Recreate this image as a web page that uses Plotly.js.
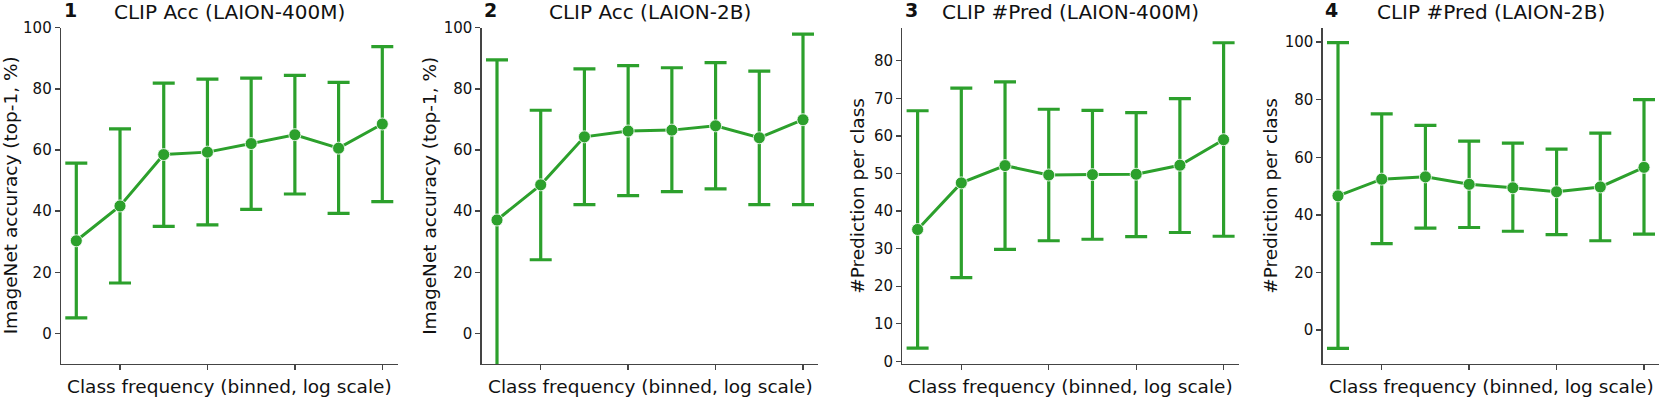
<!DOCTYPE html>
<html>
<head>
<meta charset="utf-8">
<script src="https://cdn.plot.ly/plotly-3.0.1.min.js"></script>
<style>html,body{margin:0;padding:0;background:#fff;}#chart{width:1661px;height:398px;}</style>
</head>
<body>
<div id="chart"></div>
<script>
// Bins (class frequency, binned, log scale)
const bins = [0, 1, 2, 3, 4, 5, 6, 7];
const binTicks = [1, 3, 5, 7];

// Panel 1: CLIP Acc (LAION-400M)
const acc400mMean  = [30.3, 41.7, 58.5, 59.3, 62.1, 65.0, 60.6, 68.5];
const acc400mUpper = [55.7, 66.9, 81.9, 83.2, 83.5, 84.4, 82.1, 93.8];
const acc400mLower = [5.1, 16.5, 35.0, 35.5, 40.6, 45.6, 39.3, 43.1];

// Panel 2: CLIP Acc (LAION-2B)
const acc2bMean  = [37.1, 48.6, 64.3, 66.2, 66.5, 67.9, 64.0, 69.9];
const acc2bUpper = [89.5, 73.0, 86.5, 87.6, 86.9, 88.6, 85.8, 97.9];
const acc2bLower = [-15.3, 24.1, 42.1, 45.1, 46.4, 47.3, 42.1, 42.1];

// Panel 3: CLIP #Pred (LAION-400M)
const pred400mMean  = [35.1, 47.5, 52.1, 49.6, 49.7, 49.8, 52.2, 59.0];
const pred400mUpper = [66.7, 72.7, 74.4, 67.1, 66.8, 66.2, 69.9, 84.8];
const pred400mLower = [3.5, 22.3, 29.8, 32.1, 32.5, 33.2, 34.3, 33.3];

// Panel 4: CLIP #Pred (LAION-2B)
const pred2bMean  = [46.6, 52.4, 53.2, 50.6, 49.4, 48.0, 49.7, 56.5];
const pred2bUpper = [99.8, 75.1, 71.1, 65.6, 64.9, 62.8, 68.4, 80.0];
const pred2bLower = [-6.4, 30.0, 35.4, 35.6, 34.3, 33.1, 31.0, 33.3];

const panelNumbers = ['1', '2', '3', '4'];
const panelTitles = ['CLIP Acc (LAION-400M)', 'CLIP Acc (LAION-2B)', 'CLIP #Pred (LAION-400M)', 'CLIP #Pred (LAION-2B)'];
const yLabels = ['ImageNet accuracy (top-1, %)', 'ImageNet accuracy (top-1, %)', '#Prediction per class', '#Prediction per class'];
const xLabel = 'Class frequency (binned, log scale)';
const yTicks = [[0,20,40,60,80,100],[0,20,40,60,80,100],[0,10,20,30,40,50,60,70,80],[0,20,40,60,80,100]];
const yRanges = [[-10,100],[-10,100],[-0.7,88.8],[-11.8,105]];

const series = [
  [acc400mMean, acc400mUpper, acc400mLower],
  [acc2bMean, acc2bUpper, acc2bLower],
  [pred400mMean, pred400mUpper, pred400mLower],
  [pred2bMean, pred2bUpper, pred2bLower]
];

const W = 1661, H = 398;
const GREEN = '#2ca02c';
const FONT = 'DejaVu Sans, sans-serif';
const axLeft = [61, 481.7, 902.3, 1322.7];
const axWidth = 336.6;
const axTop = 27.7, axBottom = 364;
const yLabelX = [10.5, 430, 858, 1271];

const traces = [];
const layout = {
  width: W, height: H,
  margin: {l: 0, r: 0, t: 0, b: 0},
  paper_bgcolor: '#fff', plot_bgcolor: '#fff',
  showlegend: false,
  font: {family: FONT, color: '#111'},
  annotations: []
};

series.forEach((s, i) => {
  const [mean, up, lo] = s;
  const sfx = i === 0 ? '' : String(i + 1);
  traces.push({
    type: 'scatter', mode: 'lines+markers',
    x: bins, y: mean,
    xaxis: 'x' + sfx, yaxis: 'y' + sfx,
    line: {color: GREEN, width: 3},
    marker: {color: GREEN, size: 12, line: {color: '#fff', width: 0.8}},
    error_y: {
      type: 'data', symmetric: false,
      array: mean.map((m, k) => up[k] - m),
      arrayminus: mean.map((m, k) => m - lo[k]),
      color: GREEN, thickness: 3.2, width: 11
    },
    cliponaxis: true,
    hoverinfo: 'skip'
  });
  const d0 = axLeft[i] / W, d1 = (axLeft[i] + axWidth) / W;
  layout['xaxis' + sfx] = {
    domain: [d0, d1], range: [-0.35, 7.35],
    anchor: 'y' + sfx,
    showgrid: false, zeroline: false,
    showline: true, linecolor: '#444', linewidth: 1.3,
    ticks: 'outside', ticklen: 5, tickwidth: 1.3, tickcolor: '#444',
    tickmode: 'array', tickvals: binTicks, ticktext: binTicks.map(() => ''),
    fixedrange: true
  };
  layout['yaxis' + sfx] = {
    domain: [1 - axBottom / H, 1 - axTop / H], range: yRanges[i],
    anchor: 'x' + sfx,
    showgrid: false, zeroline: false,
    showline: true, linecolor: '#444', linewidth: 1.3,
    ticks: 'outside', ticklen: 5, tickwidth: 1.3, tickcolor: '#444',
    tickmode: 'array', tickvals: yTicks[i],
    tickfont: {family: FONT, size: 15, color: '#111'},
    fixedrange: true
  };
  const cx = (axLeft[i] + axWidth / 2) / W;
  layout.annotations.push({
    text: panelTitles[i], xref: 'paper', yref: 'paper',
    x: cx, y: 1 - 12 / H, xanchor: 'center', yanchor: 'middle',
    showarrow: false, font: {family: FONT, size: 20, color: '#111'}
  });
  layout.annotations.push({
    text: '<b>' + panelNumbers[i] + '</b>', xref: 'paper', yref: 'paper',
    x: (axLeft[i] + 0.5) / W, y: 1 - 10.5 / H, xanchor: 'left', yanchor: 'middle',
    showarrow: false, font: {family: FONT, size: 19, color: '#111'}
  });
  layout.annotations.push({
    text: xLabel, xref: 'paper', yref: 'paper',
    x: cx, y: 1 - 386 / H, xanchor: 'center', yanchor: 'middle',
    showarrow: false, font: {family: FONT, size: 18.5, color: '#111'}
  });
  layout.annotations.push({
    text: yLabels[i], xref: 'paper', yref: 'paper',
    x: yLabelX[i] / W, y: 1 - ((axTop + axBottom) / 2) / H,
    xanchor: 'center', yanchor: 'middle', textangle: -90,
    showarrow: false, font: {family: FONT, size: 18.5, color: '#111'}
  });
});

Plotly.newPlot('chart', traces, layout, {displayModeBar: false, staticPlot: true});
</script>
</body>
</html>
